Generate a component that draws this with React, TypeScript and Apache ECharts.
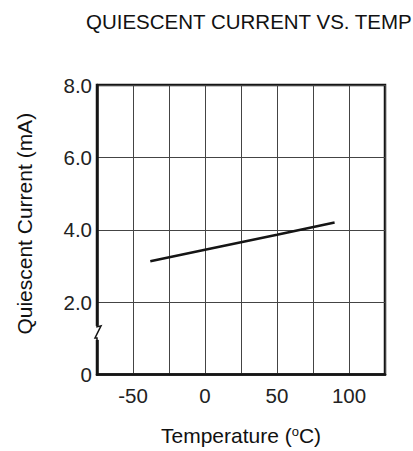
import React, { useEffect, useRef } from "react";
import * as echarts from "echarts";

const titleText = "QUIESCENT CURRENT VS. TEMP";
const xTickValues = [-50, 0, 50, 100];
const yTickValues = [0, 2, 4, 6, 8];
const yTickLabels = ["0", "2.0", "4.0", "6.0", "8.0"];
const temperature = [-38, 0, 50, 90];
const current = [3.13, 3.45, 3.86, 4.2];
const breakAt = 1.15;

const FONT = "Liberation Sans, Arial, sans-serif";

export default function App() {
  const ref = useRef<HTMLDivElement>(null);
  useEffect(() => {
    if (!ref.current) return;
    const chart = echarts.init(ref.current, null, { renderer: "svg" });
    chart.setOption({
      animation: false,
      backgroundColor: "#ffffff",
      title: {
        text: titleText,
        left: 81,
        top: 6,
        textStyle: { fontFamily: FONT, fontSize: 20.5, fontWeight: "normal", color: "#111" },
      },
      grid: {
        left: 97,
        top: 85,
        width: 288,
        height: 290,
        show: true,
        borderColor: "#151515",
        borderWidth: 2.5,
        backgroundColor: "transparent",
      },
      xAxis: {
        type: "value",
        min: -75,
        max: 125,
        interval: 25,
        name: "Temperature ({s|o}C)",
        nameLocation: "middle",
        nameGap: 50,
        nameTextStyle: {
          fontFamily: FONT,
          fontSize: 21,
          color: "#111",
          rich: {
            s: { fontFamily: FONT, fontSize: 13, verticalAlign: "top", padding: [0, 0, 9, 0], color: "#111" },
          },
        },
        axisLine: { show: true, onZero: false, lineStyle: { color: "#151515", width: 2.5 } },
        axisTick: { show: false },
        splitLine: { show: true, lineStyle: { color: "#444", width: 1 } },
        axisLabel: {
          margin: 10,
          fontFamily: FONT,
          fontSize: 20.5,
          color: "#222",
          formatter: (v: number) => (xTickValues.includes(v) ? String(v) : ""),
        },
      },
      yAxis: {
        type: "value",
        min: 0,
        max: 8,
        interval: 2,
        name: "Quiescent Current (mA)",
        nameLocation: "middle",
        nameGap: 62,
        nameTextStyle: { fontFamily: FONT, fontSize: 21, color: "#111", padding: [0, 0, 0, 12] },
        axisLine: { show: true, onZero: false, lineStyle: { color: "#151515", width: 2.5 } },
        axisTick: { show: false },
        splitLine: { show: true, lineStyle: { color: "#444", width: 1 } },
        axisLabel: {
          margin: 5,
          fontFamily: FONT,
          fontSize: 20.5,
          color: "#222",
          formatter: (v: number) => {
            const i = yTickValues.indexOf(v);
            return i >= 0 ? yTickLabels[i] : "";
          },
        },
      },
      series: [
        {
          type: "line",
          data: temperature.map((t, i) => [t, current[i]]),
          showSymbol: false,
          symbol: "none",
          lineStyle: { color: "#151515", width: 2.5 },
          z: 5,
        },
      ],
    });

    const [bx, by] = chart.convertToPixel({ gridIndex: 0 }, [-75, breakAt]) as number[];
    chart.setOption({
      graphic: [
        {
          type: "rect",
          shape: { x: bx - 3, y: by - 7, width: 6, height: 14 },
          style: { fill: "#fff" },
          z: 100,
        },
        {
          type: "polyline",
          shape: {
            points: [
              [bx, by - 8],
              [bx, by - 6],
              [bx + 4, by - 7],
              [bx - 2, by + 5],
              [bx, by + 5],
              [bx, by + 8],
            ],
          },
          style: { stroke: "#151515", lineWidth: 1.5, fill: "none" },
          z: 101,
        },
      ],
    });

    return () => chart.dispose();
  }, []);
  return (
    <div
      ref={ref}
      style={{ position: "absolute", left: 0, top: 0, width: 413, height: 451 }}
    />
  );
}
